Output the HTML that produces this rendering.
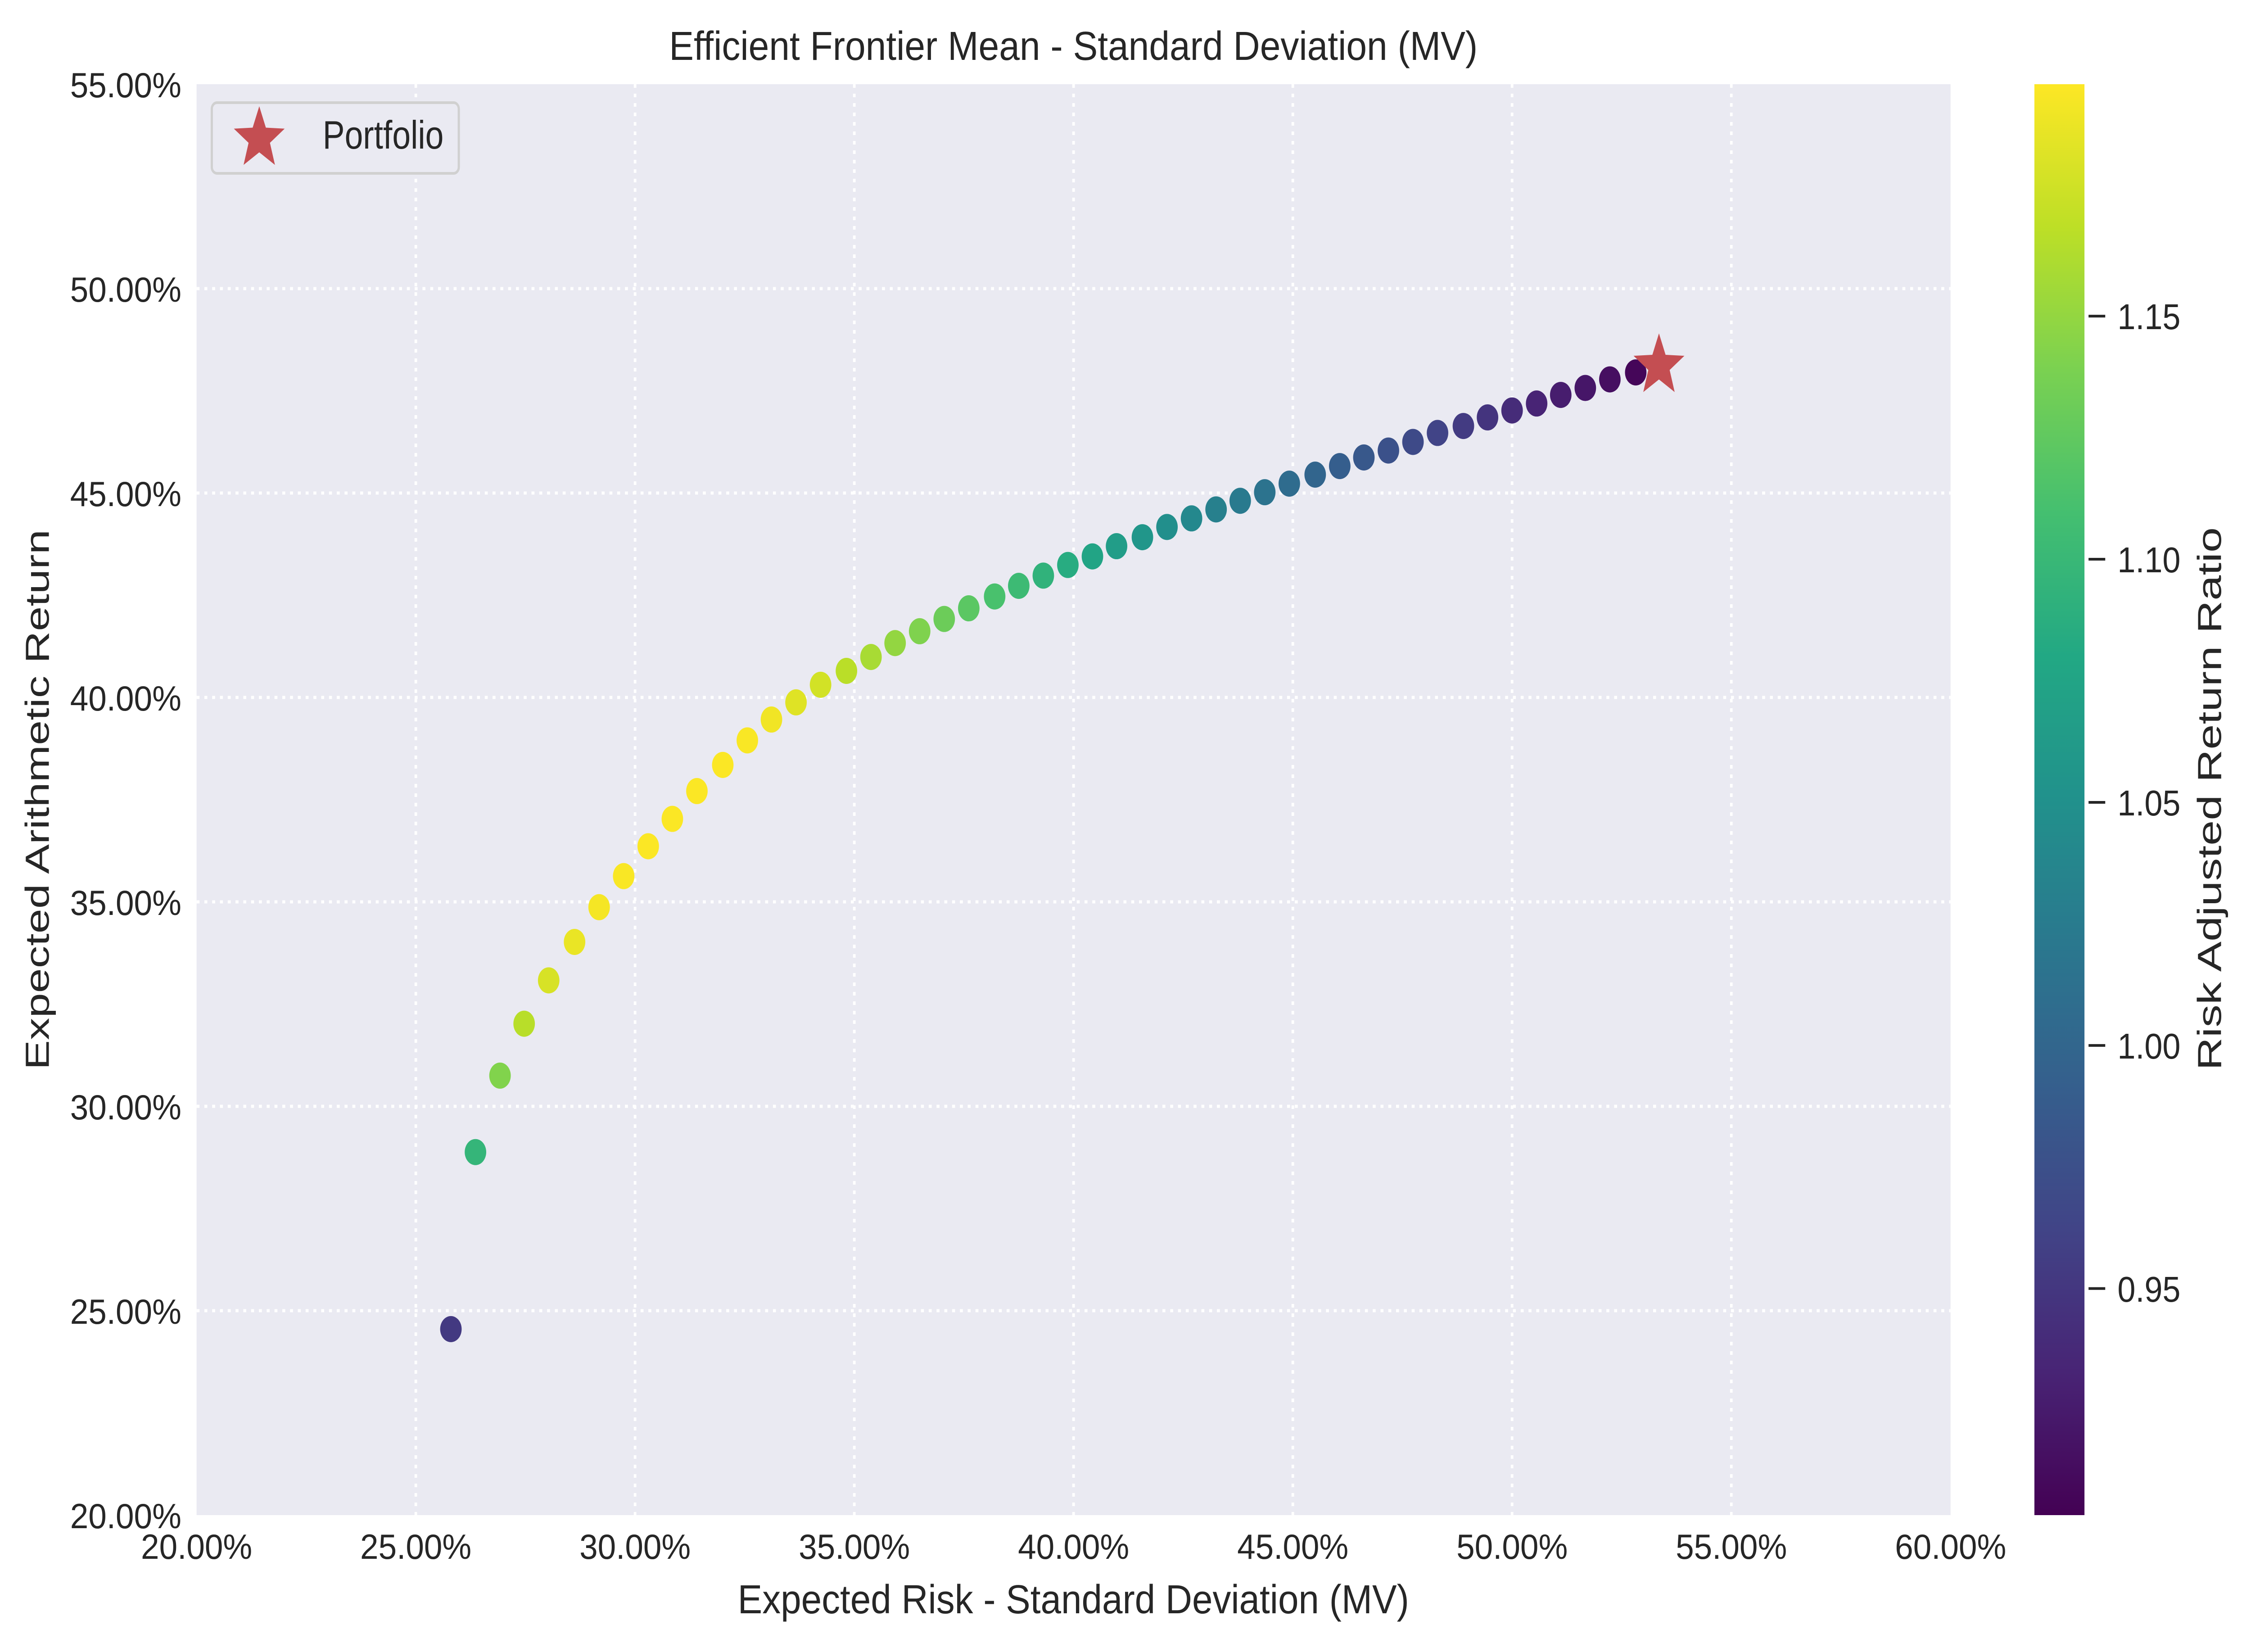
<!DOCTYPE html>
<html><head><meta charset="utf-8"><style>
html,body{margin:0;padding:0;background:#fff;overflow:hidden;width:100%;height:100%;}
svg{display:block;font-family:"Liberation Sans",Arial,sans-serif;width:100vw;height:100vh;}
</style></head><body>
<svg id="chart" viewBox="0 0 6069 3669" preserveAspectRatio="none" xmlns="http://www.w3.org/2000/svg">
<rect x="0" y="0" width="6069" height="3669" fill="#ffffff"/>
<rect x="530" y="187" width="4729" height="3178" fill="#eaeaf2"/>
<g id="grid"></g>
<g id="points"></g>
<g id="ticks" fill="#262626" font-size="78"></g>
<text x="2894" y="133" text-anchor="middle" font-size="90" fill="#262626" textLength="2180" lengthAdjust="spacingAndGlyphs">Efficient Frontier Mean - Standard Deviation (MV)</text>
<text x="2894" y="3583" text-anchor="middle" font-size="90" fill="#262626" textLength="1810" lengthAdjust="spacingAndGlyphs">Expected Risk - Standard Deviation (MV)</text>
<text transform="translate(132,1776) rotate(-90)" text-anchor="middle" font-size="90" fill="#262626" textLength="1200" lengthAdjust="spacingAndGlyphs">Expected Arithmetic Return</text>
<g>
<rect x="571" y="228" width="666" height="157" rx="14" fill="#eaeaf2" stroke="#d0d0d0" stroke-width="6"/>
<path id="legendStar" fill="#c44e52"/>
<text x="870" y="330" font-size="88" fill="#262626" textLength="326" lengthAdjust="spacingAndGlyphs">Portfolio</text>
</g>
<defs><linearGradient id="viridis" x1="0" y1="1" x2="0" y2="0"></linearGradient></defs>
<rect x="5485" y="187" width="135" height="3178" fill="url(#viridis)"/>
<g id="cbticks" fill="#262626"></g>
<text transform="translate(5988,1774) rotate(-90)" text-anchor="middle" font-size="90" fill="#262626" textLength="1206" lengthAdjust="spacingAndGlyphs">Risk Adjusted Return Ratio</text>
</svg>
<script>
// Data
const risk = [25.80,26.36,26.92,27.47,28.03,28.62,29.18,29.74,30.30,30.85,31.41,32.00,32.56,33.11,33.67,34.23,34.82,35.38,35.93,36.49,37.05,37.61,38.20,38.75,39.31,39.87,40.43,40.98,41.57,42.13,42.69,43.25,43.80,44.36,44.92,45.51,46.07,46.62,47.18,47.74,48.30,48.89,49.44,50.00,50.56,51.11,51.67,52.23,52.82];
const ret = [24.55,28.88,30.75,32.02,33.08,34.02,34.87,35.63,36.36,37.03,37.71,38.35,38.95,39.46,39.88,40.31,40.65,40.99,41.33,41.62,41.92,42.18,42.47,42.73,42.98,43.24,43.45,43.70,43.92,44.17,44.38,44.60,44.81,45.02,45.23,45.45,45.66,45.87,46.04,46.25,46.47,46.64,46.85,47.02,47.19,47.40,47.57,47.78,47.95];
const ratio = [0.952,1.096,1.142,1.166,1.180,1.189,1.194,1.196,1.197,1.197,1.197,1.197,1.196,1.192,1.184,1.178,1.167,1.159,1.150,1.141,1.131,1.122,1.112,1.103,1.093,1.085,1.075,1.066,1.057,1.048,1.040,1.031,1.023,1.015,1.007,0.999,0.991,0.984,0.976,0.969,0.962,0.954,0.948,0.940,0.933,0.927,0.921,0.915,0.908];
const portfolioRisk = [53.35];
const portfolioRet = [48.20];
const xTicks = [20,25,30,35,40,45,50,55,60];
const yTicks = [20,25,30,35,40,45,50,55];
const cbTicks = [0.95,1.00,1.05,1.10,1.15];
const cbMin = 0.9034, cbMax = 1.1977;

const NS = "http://www.w3.org/2000/svg";
const L=530,R=5259,T=187,B=3365;
const xS = v => L + (v-20)/(60-20)*(R-L);
const yS = v => B - (v-20)/(55-20)*(B-T);
const cS = v => B - (v-cbMin)/(cbMax-cbMin)*(B-T);
const vir = ["#440154","#482475","#414487","#355f8d","#2a788e","#21918c","#22a884","#44bf70","#7ad151","#bddf26","#fde725"];
function hex(h){return [1,3,5].map(i=>parseInt(h.substr(i,2),16));}
function viridis(t){t=Math.max(0,Math.min(1,t));const p=t*10,i=Math.min(9,Math.floor(p)),f=p-i;const a=hex(vir[i]),b=hex(vir[i+1]);return "rgb("+a.map((c,k)=>Math.round(c+(b[k]-c)*f)).join(",")+")";}
function mk(tag,attrs,parent){const e=document.createElementNS(NS,tag);for(const k in attrs)e.setAttribute(k,attrs[k]);parent.appendChild(e);return e;}
function star(cx,cy,r){let d="";for(let i=0;i<10;i++){const rr=i%2?r*0.42:r;const a=-Math.PI/2+i*Math.PI/5;d+=(i?"L":"M")+(cx+rr*Math.cos(a)).toFixed(1)+","+(cy+rr*Math.sin(a)).toFixed(1);}return d+"Z";}

const grid=document.getElementById("grid");
xTicks.slice(1,-1).forEach(v=>{const l=mk("line",{x1:xS(v),x2:xS(v),y1:T,y2:B,stroke:"#fff","stroke-width":7,"stroke-dasharray":"8,13"},grid);

});
yTicks.slice(1,-1).forEach(v=>{const l=mk("line",{x1:L,x2:R,y1:yS(v),y2:yS(v),stroke:"#fff","stroke-width":7,"stroke-dasharray":"8,13"},grid);

});

const tk=document.getElementById("ticks");
xTicks.forEach(v=>{const t=mk("text",{x:xS(v),y:3462,"text-anchor":"middle",textLength:300,lengthAdjust:"spacingAndGlyphs"},tk);t.textContent=v.toFixed(2)+"%";

});
yTicks.forEach(v=>{const t=mk("text",{x:489,y:yS(v)+29,"text-anchor":"end",textLength:300,lengthAdjust:"spacingAndGlyphs"},tk);t.textContent=v.toFixed(2)+"%";

});

const pts=document.getElementById("points");
risk.forEach((v,i)=>{const c=mk("circle",{cx:xS(v),cy:yS(ret[i]),r:29,fill:viridis((ratio[i]-cbMin)/(cbMax-cbMin))},pts);

});
portfolioRisk.forEach((v,i)=>{const s=mk("path",{d:star(xS(v),yS(portfolioRet[i])+8,72),fill:"#c44e52"},pts);

});
document.getElementById("legendStar").setAttribute("d",star(699,308,72));

const grad=document.getElementById("viridis");
vir.forEach((c,i)=>{mk("stop",{offset:(i/10),"stop-color":c},grad);});
const cbt=document.getElementById("cbticks");
cbTicks.forEach(v=>{const y=cS(v);const l=mk("line",{x1:5631,x2:5676,y1:y,y2:y,stroke:"#262626","stroke-width":6},cbt);


const t=mk("text",{x:5709,y:y+29,"font-size":80,textLength:170,lengthAdjust:"spacingAndGlyphs"},cbt);t.textContent=v.toFixed(2);

});
</script>
</body></html>
